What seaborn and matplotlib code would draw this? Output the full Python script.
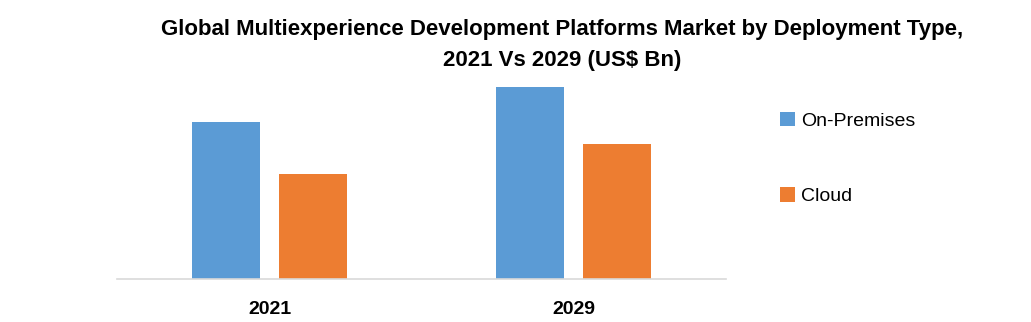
import matplotlib
matplotlib.use("Agg")
import matplotlib.pyplot as plt
import seaborn as sns
import pandas as pd
from matplotlib.patches import Patch

years = ["2021", "2029"]
segments = ["On-Premises", "Cloud"]
on_premises = [1.57, 1.92]
cloud = [1.05, 1.35]
colors = ["#5B9BD5", "#ED7D31"]

title = "Global Multiexperience Development Platforms Market by Deployment Type,\n2021 Vs 2029 (US$ Bn)"

df = pd.DataFrame({
    "Year": years * 2,
    "Segment": [segments[0]] * 2 + [segments[1]] * 2,
    "Value": on_premises + cloud,
})

sns.set_theme(style="white")
plt.rcParams['font.family'] = ['Liberation Sans', 'DejaVu Sans']
plt.rcParams['text.color'] = 'black'
plt.rcParams['xtick.color'] = 'black'

fig = plt.figure(figsize=(10.31, 3.22), dpi=100)
ax = fig.add_axes([117.5 / 1031, 43 / 322, 608 / 1031, 199 / 322])
sns.barplot(data=df, x="Year", y="Value", hue="Segment", palette=colors,
            width=0.572, gap=0.217, ax=ax, legend=False, saturation=1,
            linewidth=0, edgecolor="none")
ax.set_xlim(-0.5, 1.5)
ax.set_ylim(0, 1.99)
ax.set_xlabel("")
ax.set_ylabel("")
ax.set_yticks([])
for s in ["top", "right", "left"]:
    ax.spines[s].set_visible(False)
ax.spines["bottom"].set_color("#D9D9D9")
ax.spines["bottom"].set_linewidth(1.2)
ax.tick_params(axis="x", length=0, pad=16, colors="black")
for lab in ax.get_xticklabels():
    lab.set_fontweight("bold")
    lab.set_fontsize(14)

fig.text(562 / 1031, 1 - 45 / 322, title, ha="center", va="center",
         fontsize=16, fontweight="bold", linespacing=1.6, color="black")

handles = [Patch(facecolor=c, edgecolor="none") for c in colors]
fig.legend(handles, segments, loc="upper left", bbox_to_anchor=(780 / 1031, 1 - 112 / 322),
           frameon=False, handlelength=0.75, handleheight=0.75,
           handletextpad=0.35, labelspacing=2.95, borderpad=0, borderaxespad=0,
           prop={"size": 14}, labelcolor="black")

fig.savefig("out.png", dpi=100)
